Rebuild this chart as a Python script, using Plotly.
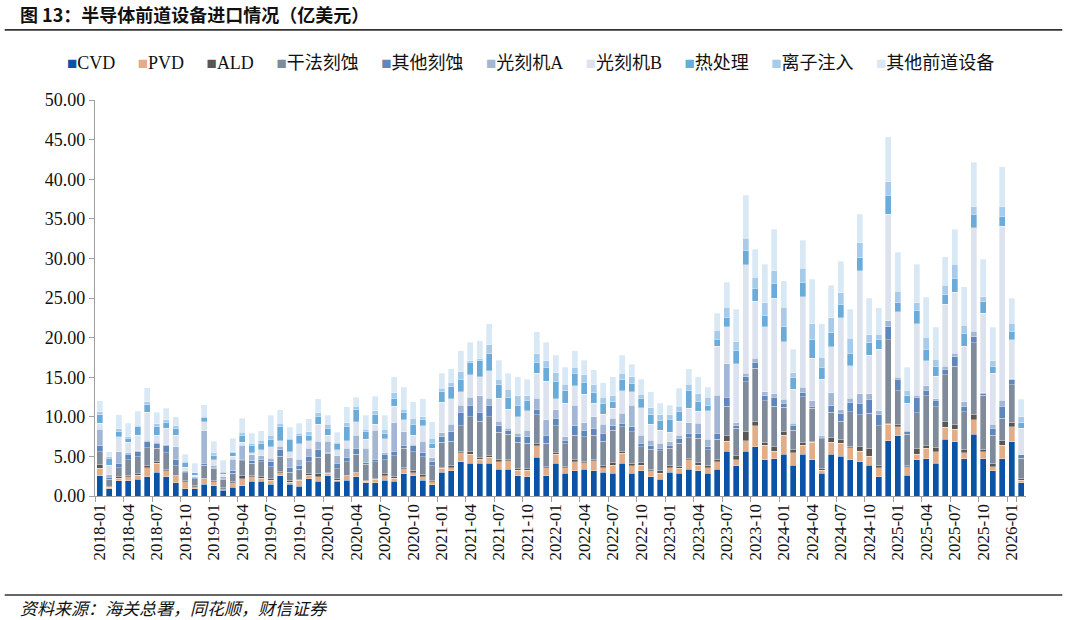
import plotly.graph_objects as go

months = [f"{y}-{m:02d}" for y in range(2018, 2027) for m in range(1, 13)][:98]

cvd = [2.57, 0.9, 1.9, 1.9, 2.1, 2.44, 3.03, 2.44, 1.68, 0.93, 0.93, 1.47,
       1.3, 0.72, 1.09, 1.3, 1.85, 1.85, 1.47, 2.57, 1.47, 1.26, 2.19, 1.85,
       2.57, 1.85, 2.02, 2.44, 1.68, 1.68, 2.02, 1.85, 2.78, 2.57, 2.02, 1.39,
       2.99, 3.2, 4.33, 4.12, 4.12, 4.12, 3.37, 3.37, 2.57, 2.44, 4.88, 2.57,
       4.12, 2.86, 3.2, 3.37, 3.2, 2.99, 2.86, 4.12, 2.86, 3.2, 2.44, 2.1,
       2.99, 2.86, 3.37, 3.16, 2.86, 3.37, 5.68, 3.79, 5.68, 6.23, 4.55, 4.71,
       5.26, 3.91, 5.26, 4.55, 2.86, 5.26, 5.05, 4.55, 4.34, 3.91, 2.44, 6.99,
       7.58, 2.65, 4.55, 4.71, 4.12, 7.15, 6.86, 4.71, 7.79, 4.71, 3.2, 4.71,
       6.86, 1.68]
pvd = [0.93, 0.2, 0.33, 0.54, 0.55, 1.14, 1.09, 0.76, 0.89, 0.88, 0.25, 0.68,
       0.51, 0.21, 0.59, 0.85, 0.55, 0.42, 0.55, 0.38, 0.26, 0.76, 0.46, 0.59,
       0.29, 0.17, 0.55, 0.51, 0.21, 0.42, 0.55, 0.38, 0.63, 0.38, 0.42, 0.42,
       0.5, 0.38, 1.14, 1.14, 0.55, 0.76, 0.96, 1.05, 0.71, 0.84, 1.48, 1.01,
       1.18, 0.72, 1.13, 0.84, 1.26, 0.59, 1.05, 1.27, 0.97, 0.71, 0.76, 0.76,
       0.59, 0.63, 1.18, 0.75, 0.72, 0.96, 1.26, 0.76, 1.31, 2.65, 1.89, 0.97,
       2.44, 1.56, 1.18, 2.23, 0.42, 1.52, 1.6, 1.55, 1.34, 1.14, 1.14, 2.06,
       1.17, 1.05, 0.71, 1.31, 1.48, 1.52, 1.6, 0.76, 1.81, 0.89, 0.5, 1.73,
       1.89, 0.34]
ald = [0.42, 0.16, 0.21, 0.21, 0.21, 0.25, 0.21, 0.2, 0.08, 0.13, 0.17, 0.12,
       0.21, 0.16, 0.09, 0.42, 0.17, 0.17, 0.13, 0.16, 0.17, 0.08, 0.13, 0.34,
       0.13, 0.13, 0.08, 0.08, 0.13, 0.13, 0.21, 0.17, 0.21, 0.33, 0.3, 0.21,
       0.17, 0.21, 0.17, 0.34, 0.21, 0.21, 0.22, 0.13, 0.21, 0.21, 0.21, 0.12,
       0.17, 0.12, 0.22, 0.17, 0.21, 0.21, 0.34, 0.21, 0.29, 0.3, 0.17, 0.34,
       0.33, 0.21, 0.21, 0.3, 0.33, 0.34, 0.64, 0.54, 1.13, 0.59, 0.34, 0.55,
       0.42, 0.34, 0.34, 0.16, 0.21, 0.59, 0.5, 0.21, 0.55, 0.97, 0.21, 0.13,
       0.34, 0.21, 0.76, 0.34, 0.54, 0.72, 0.59, 0.34, 0.75, 0.33, 0.42, 0.55,
       0.55, 0.21]
dry_etch = [1.68, 0.84, 1.14, 1.9, 2.11, 2.27, 1.67, 2.07, 1.14, 1.01, 0.8, 1.64,
            1.47, 1.01, 1.09, 1.85, 1.55, 1.89, 1.55, 1.94, 1.09, 1.27, 1.55, 2.1,
            2.4, 1.26, 1.68, 2.23, 2.02, 2.1, 1.77, 2.69, 2.4, 2.32, 2.23, 1.77,
            3.12, 3.15, 3.24, 4.42, 4.59, 4.93, 3.49, 3.24, 3.29, 3.16, 3.66, 2.95,
            3.41, 2.87, 3.15, 3.11, 3.03, 3.15, 4.08, 3.15, 4.0, 2.02, 2.56, 2.52,
            2.11, 2.95, 2.61, 3.07, 1.9, 2.48, 3.78, 3.45, 6.32, 6.65, 5.22, 5.13,
            3.08, 2.52, 5.76, 4.13, 3.71, 3.19, 2.32, 4.34, 4.0, 4.42, 5.05, 10.52,
            4.21, 3.88, 4.5, 6.27, 5.14, 5.89, 7.36, 4.84, 9.01, 6.82, 3.58, 2.82,
            4.72, 2.53]
other_etch = [0.76, 0.26, 0.54, 0.75, 0.63, 0.76, 0.65, 0.97, 0.76, 0.16, 0.16, 0.21,
              0.13, 0.13, 0.3, 0.25, 0.3, 0.3, 0.63, 0.76, 0.59, 0.54, 0.72, 0.93,
              0.08, 0.71, 0.55, 0.76, 0.17, 0.34, 0.75, 0.59, 0.42, 0.76, 0.5, 0.54,
              0.71, 1.18, 1.68, 1.47, 1.09, 1.47, 0.84, 0.54, 0.71, 0.84, 0.71, 1.05,
              0.93, 0.5, 1.18, 0.84, 0.84, 0.97, 0.55, 0.43, 0.63, 0.42, 0.43, 0.3,
              0.42, 0.55, 0.54, 0.63, 0.42, 0.76, 1.1, 0.3, 0.63, 0.76, 0.63, 1.1,
              0.5, 0.63, 0.51, 0.29, 0.21, 0.85, 0.97, 1.13, 1.47, 1.77, 1.39, 1.68,
              1.43, 0.33, 1.94, 0.75, 0.84, 0.71, 1.18, 0.71, 0.76, 0.21, 0.84, 1.55,
              0.63, 0.42]
litho_a = [2.1, 0.3, 1.48, 0.17, 0.12, 0.21, 0.13, 0.06, 1.68, 0.09, 0.09, 4.13,
           0.29, 0.21, 1.51, 1.73, 0.76, 0.46, 0.43, 0.5, 1.26, 0.76, 0.97, 1.13,
           1.47, 0.97, 1.14, 1.68, 1.81, 3.66, 0.17, 3.58, 1.68, 0.16, 1.47, 0.51,
           0.51, 0.93, 0.93, 0.97, 2.07, 0.84, 0.59, 0.21, 0.42, 0.84, 1.39, 1.9,
           1.05, 0.42, 2.61, 0.93, 1.48, 1.18, 0.93, 1.26, 2.74, 1.05, 0.71, 0.63,
           0.42, 0.5, 1.35, 1.27, 0.92, 4.84, 4.21, 0.42, 0.42, 0.5, 0.54, 0.42,
           0.51, 0.22, 0.67, 0.64, 0.17, 1.64, 0.42, 0.55, 1.18, 0.67, 0.54, 0.72,
           0.25, 0.21, 0.29, 0.55, 0.13, 0.42, 0.42, 0.55, 0.71, 0.09, 0.51, 0.76,
           0.16, 0.12]
litho_b = [0.72, 1.25, 1.9, 1.31, 1.98, 3.49, 0.92, 2.04, 1.47, 0.42, 0.25, 1.14,
           0.64, 0.3, 0.38, 0.38, 0.29, 0.72, 1.47, 0.68, 0.76, 1.9, 0.97, 2.15,
           0.72, 0.72, 0.97, 1.69, 1.13, 0.72, 1.73, 2.1, 1.48, 1.18, 1.94, 1.18,
           3.83, 3.2, 1.68, 2.82, 2.44, 3.49, 2.86, 2.4, 2.11, 2.44, 3.16, 4.92,
           1.39, 4.21, 2.44, 3.58, 1.68, 1.26, 1.26, 2.82, 1.68, 3.45, 2.02, 1.68,
           1.18, 1.77, 1.81, 1.55, 3.62, 6.19, 4.71, 7.41, 13.68, 7.24, 8.21, 12.08,
           7.28, 4.29, 11.45, 5.38, 7.15, 5.81, 11.66, 4.13, 15.53, 4.92, 7.75, 13.46,
           8.29, 3.37, 8.97, 3.16, 2.9, 7.79, 7.71, 7.03, 13.05, 10.01, 6.44, 21.97,
           4.89, 3.24]
heat = [1.05, 0.85, 0.64, 0.54, 1.05, 0.94, 1.05, 0.72, 0.84, 0.58, 0.3, 0.51,
        0.54, 0.21, 0.42, 0.92, 0.97, 0.84, 0.92, 1.76, 1.55, 1.13, 0.71, 1.01,
        0.88, 0.84, 1.76, 1.47, 0.97, 1.18, 0.71, 0.97, 0.96, 1.35, 0.72, 0.63,
        1.34, 1.55, 1.6, 1.56, 2.02, 2.11, 1.69, 1.52, 1.47, 1.27, 1.35, 1.73,
        2.27, 1.56, 1.56, 1.51, 1.35, 1.35, 0.84, 1.39, 1.06, 1.18, 1.14, 1.18,
        1.64, 1.26, 2.31, 1.18, 0.72, 0.88, 1.14, 1.68, 1.89, 1.6, 1.47, 1.89,
        1.89, 1.51, 1.81, 2.32, 1.52, 1.76, 1.68, 1.55, 1.68, 1.56, 1.18, 2.44,
        1.14, 0.93, 1.68, 1.43, 1.26, 1.18, 1.76, 1.6, 1.68, 1.48, 0.92, 1.26,
        1.13, 0.72]
implant = [0.42, 0.22, 0.36, 0.18, 0.21, 0.4, 0.35, 0.34, 0.34, 0.18, 0.08, 0.2,
           0.38, 0.16, 0.13, 0.34, 0.21, 0.42, 0.55, 0.43, 0.17, 0.21, 0.42, 0.4,
           0.51, 0.13, 0.51, 0.5, 0.3, 0.54, 0.55, 0.72, 0.38, 0.76, 0.42, 0.63,
           0.42, 0.55, 0.93, 0.21, 0.21, 1.14, 0.71, 1.01, 1.14, 0.59, 1.09, 0.8,
           1.05, 0.84, 0.76, 0.93, 0.97, 0.76, 0.72, 0.84, 0.84, 0.51, 0.92, 0.72,
           0.55, 0.63, 0.76, 0.97, 0.97, 1.14, 1.3, 1.14, 1.47, 1.39, 1.56, 1.56,
           2.44, 0.59, 1.77, 2.02, 1.26, 1.9, 1.47, 1.9, 1.9, 0.97, 0.71, 1.69,
           1.47, 0.75, 1.01, 1.51, 0.85, 1.26, 1.81, 1.05, 0.97, 0.63, 0.64, 1.18,
           0.97, 0.76]
other_fe = [1.39, 0.63, 1.74, 1.7, 1.74, 1.8, 1.5, 1.5, 1.12, 0.92, 1.09, 1.4,
            1.47, 1.39, 1.72, 1.76, 1.26, 1.18, 2.5, 1.72, 1.35, 1.27, 1.64, 1.75,
            1.15, 1.26, 2.02, 1.1, 1.78, 1.81, 1.73, 2.02, 2.78, 2.06, 2.23, 2.11,
            1.9, 1.69, 2.61, 2.39, 2.31, 2.65, 2.44, 2.02, 2.44, 2.1, 2.82, 2.39,
            2.19, 2.15, 2.06, 1.89, 1.89, 1.85, 2.44, 2.27, 1.55, 1.89, 2.02, 1.47,
            1.26, 2.23, 1.9, 2.19, 1.26, 2.1, 3.16, 4.08, 5.43, 3.53, 4.88, 5.26,
            3.37, 2.95, 3.57, 5.64, 4.21, 4.12, 4.0, 3.66, 3.57, 4.63, 3.37, 5.68,
            4.89, 2.87, 4.88, 5.05, 4.04, 3.58, 4.38, 4.84, 5.6, 4.71, 4.25, 5.05,
            3.16, 2.19]

series_names = ["CVD", "PVD", "ALD", "干法刻蚀", "其他刻蚀", "光刻机A", "光刻机B",
                "热处理", "离子注入", "其他前道设备"]
series_values = [cvd, pvd, ald, dry_etch, other_etch, litho_a, litho_b, heat, implant, other_fe]
colors = ["#0b53a6", "#e2ad87", "#595656", "#7f8b9b", "#5f87bb", "#a3b7d4",
          "#dce3ee", "#6babd9", "#a8cbea", "#d8e8f4"]

tick_vals = months[::3]

fig = go.Figure()
for name, vals, col in zip(series_names, series_values, colors):
    fig.add_trace(go.Bar(
        x=months, y=vals, name=name, showlegend=False,
        marker=dict(color=col, line=dict(color="rgba(255,255,255,0.55)", width=0.6)),
        hoverinfo="skip",
    ))

# legend row built from the series names and colours (Excel-style "■Name" entries)
gap = "\u00a0" * 5
legend_text = gap.join(
    f'<span style="color:{c};font-size:17px">■</span>{n}'
    for n, c in zip(series_names, colors)
)

serif = "Times New Roman, Liberation Serif, Noto Sans CJK SC, serif"
cjk = "Noto Sans CJK SC, sans-serif"

fig.update_layout(
    width=1066, height=620,
    margin=dict(l=95, r=40, t=100, b=124),
    paper_bgcolor="white", plot_bgcolor="white",
    barmode="stack", bargap=0.34,
    font=dict(family=serif, size=17, color="#111"),
    showlegend=False,
    xaxis=dict(
        type="category", tickmode="array", tickvals=tick_vals, ticktext=tick_vals,
        tickangle=-90, tickson="boundaries", ticks="outside", ticklen=5,
        tickcolor="#a0a0a0", showline=True, linecolor="#a0a0a0", linewidth=1.3,
        showgrid=False, tickfont=dict(family=serif, size=17, color="#111"),
        range=[-0.5, 97.5],
    ),
    yaxis=dict(
        range=[0, 50], dtick=5, tick0=0, tickformat=".2f", ticks="outside",
        ticklen=5, tickcolor="#a0a0a0", showline=True, linecolor="#a0a0a0",
        linewidth=1.3, showgrid=False, zeroline=False,
        tickfont=dict(family=serif, size=18, color="#111"),
    ),
    shapes=[
        dict(type="line", xref="paper", yref="paper", x0=-0.097, x1=1.039,
             y0=1.177, y1=1.177, line=dict(color="#333", width=1.6)),
        dict(type="line", xref="paper", yref="paper", x0=-0.097, x1=1.039,
             y0=-0.25, y1=-0.25, line=dict(color="#333", width=1.6)),
    ],
    annotations=[
        dict(text="<b>图 13：半导体前道设备进口情况（亿美元）</b>", xref="paper", yref="paper",
             x=-0.0827, y=1.217, xanchor="left", yanchor="middle", showarrow=False,
             font=dict(family=cjk, size=18, color="#111")),
        dict(text=legend_text, xref="paper", yref="paper",
             x=0.468, y=1.093, xanchor="center", yanchor="middle", showarrow=False,
             font=dict(family="Liberation Serif, Noto Sans CJK SC", size=18, color="#111")),
        dict(text="<i>资料来源：海关总署，同花顺，财信证券</i>", xref="paper", yref="paper",
             x=-0.0827, y=-0.282, xanchor="left", yanchor="middle", showarrow=False,
             font=dict(family=cjk, size=17, color="#111")),
    ],
)

fig.write_html("out.html")
